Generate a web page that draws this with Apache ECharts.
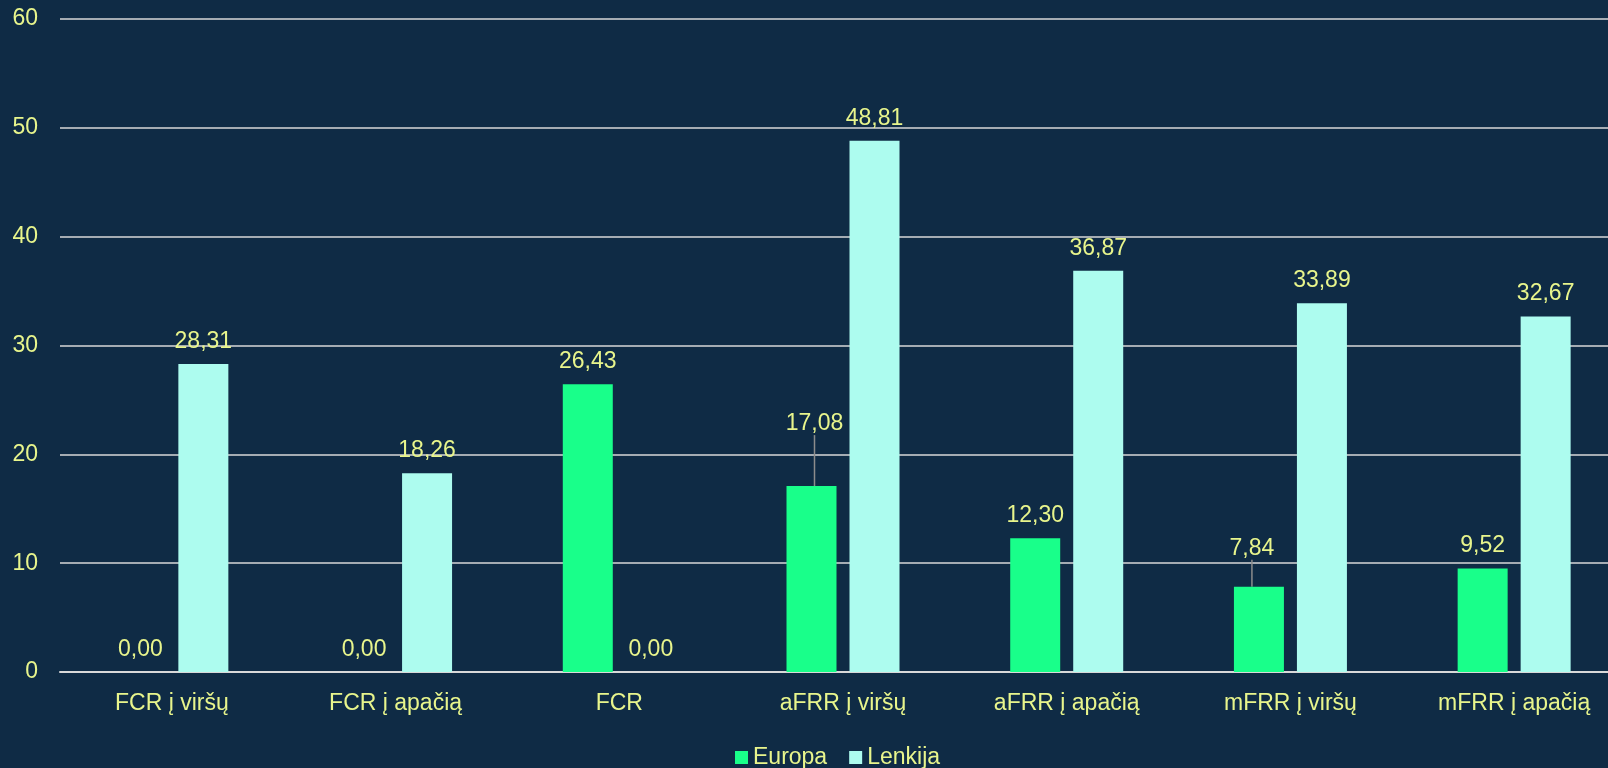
<!DOCTYPE html>
<html>
<head>
    <meta charset="utf-8"/>
    <script src="https://cdn.jsdelivr.net/npm/echarts@6/dist/echarts.min.js"></script>
    <style>
        html, body { margin: 0; padding: 0; background: #0f2b45; overflow: hidden; }
        #main { width: 1626px; height: 768px; }
    </style>
</head>
<body>
<div id="main"></div>
<script type="text/javascript">
    var categories = ['FCR į viršų', 'FCR į apačią', 'FCR', 'aFRR į viršų', 'aFRR į apačią', 'mFRR į viršų', 'mFRR į apačią'];
    var europa = [0.00, 0.00, 26.43, 17.08, 12.30, 7.84, 9.52];
    var lenkija = [28.31, 18.26, 0.00, 48.81, 36.87, 33.89, 32.67];
    var yTicks = [0, 10, 20, 30, 40, 50, 60];

    var textColor = '#e8f58c';
    var font = 'Liberation Sans';

    function fmt(v) {
        return v.toFixed(2).replace('.', ',');
    }

    // labels moved up with a leader line (index -> [dx, dy])
    var moved = { 3: [3, -40], 5: [-7, -16] };

    var europaData = europa.map(function (v, i) {
        var item = { value: v };
        if (moved[i]) item.labelLine = { show: true };
        return item;
    });

    var myChart = echarts.init(document.getElementById('main'));
    var option = {
        backgroundColor: '#0f2b45',
        textStyle: { fontFamily: font },
        grid: { left: 60, right: 0, top: 19, bottom: 96 },
        legend: {
            data: ['Europa', 'Lenkija'],
            top: 741,
            left: 730,
            itemWidth: 13,
            itemHeight: 13,
            itemGap: 22,
            icon: 'rect',
            textStyle: { color: textColor, fontSize: 23, fontFamily: font }
        },
        xAxis: {
            type: 'category',
            data: categories,
            axisLine: { lineStyle: { color: '#d9d9d9', width: 2 } },
            axisTick: { show: false },
            axisLabel: { color: textColor, fontSize: 23, margin: 20 }
        },
        yAxis: {
            type: 'value',
            min: yTicks[0],
            max: yTicks[yTicks.length - 1],
            interval: 10,
            axisLine: { show: false },
            axisTick: { show: false },
            splitLine: { lineStyle: { color: '#d9d9d9', width: 1.5 } },
            axisLabel: { color: textColor, fontSize: 23, margin: 22 }
        },
        series: [{
            name: 'Europa',
            type: 'bar',
            data: europaData,
            barWidth: 50,
            barGap: '26%',
            itemStyle: { color: '#19ff8a' },
            label: {
                show: true,
                position: 'top',
                distance: 11,
                color: textColor,
                fontSize: 23,
                formatter: function (p) { return fmt(p.value); }
            },
            labelLine: { show: false, lineStyle: { color: '#8c8c8c', width: 1.5 } },
            labelLayout: function (params) {
                var m = moved[params.dataIndex];
                if (!m) return {};
                return { dx: m[0], dy: m[1] };
            }
        }, {
            name: 'Lenkija',
            type: 'bar',
            data: lenkija,
            barWidth: 50,
            itemStyle: { color: '#adfcef' },
            label: {
                show: true,
                position: 'top',
                distance: 11,
                color: textColor,
                fontSize: 23,
                formatter: function (p) { return fmt(p.value); }
            }
        }],
        animation: false
    };
    myChart.setOption(option);
</script>
</body>
</html>
